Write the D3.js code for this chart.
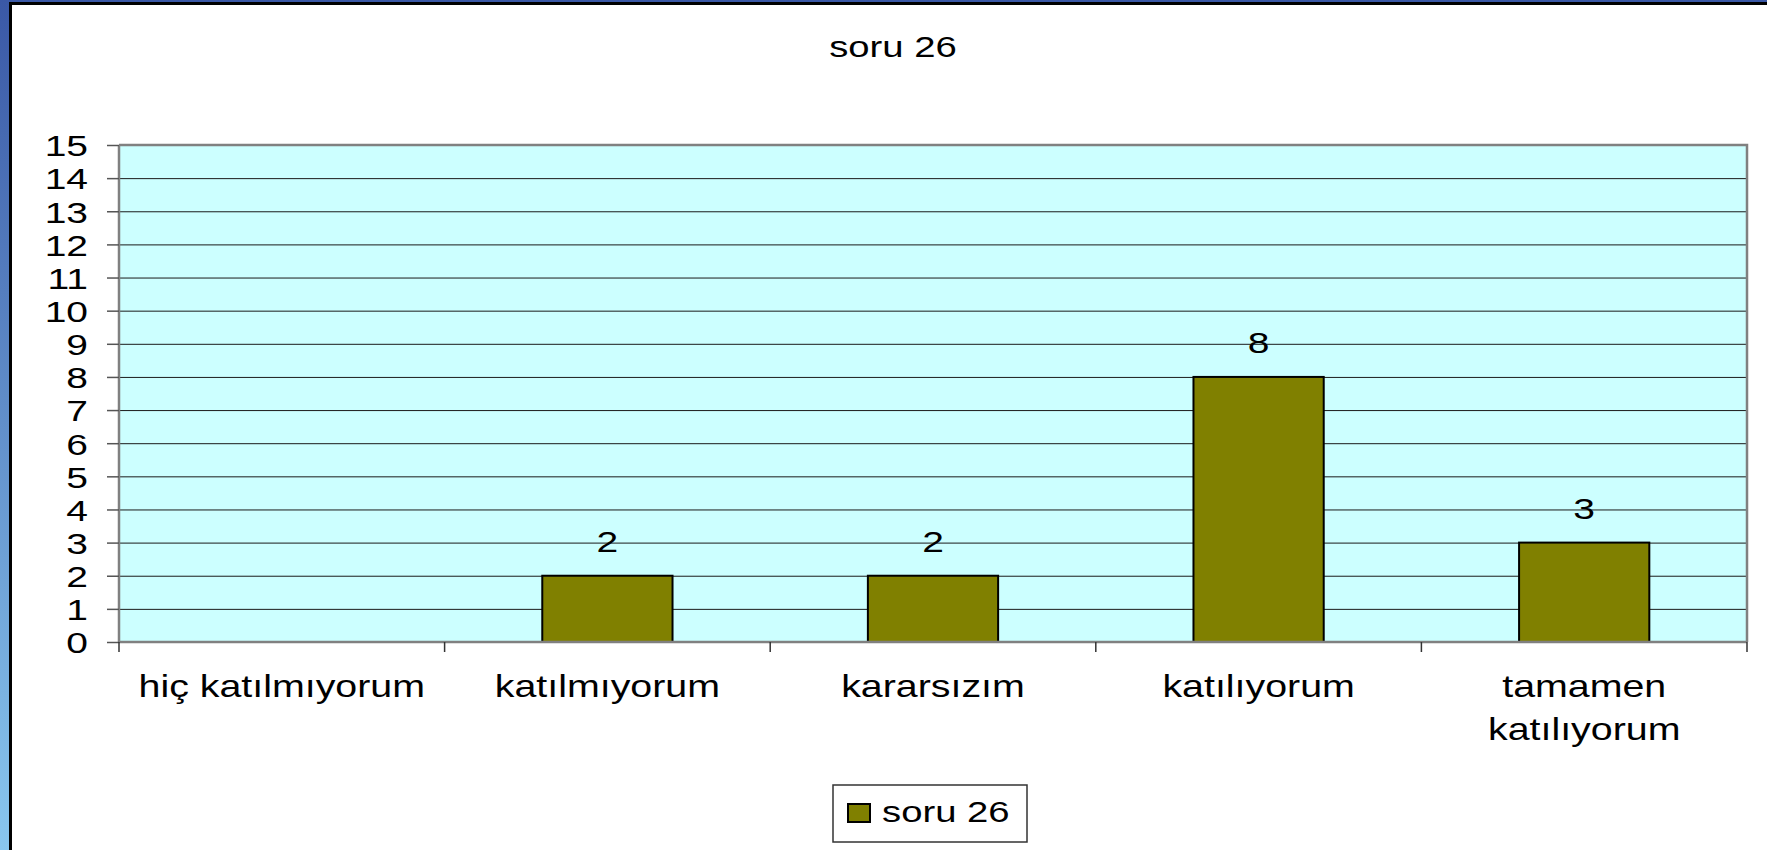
<!DOCTYPE html>
<html>
<head>
<meta charset="utf-8">
<script src="https://cdn.jsdelivr.net/npm/d3@7"></script>
<style>
  body { margin: 0; overflow: hidden; }
  text { font-family: "Liberation Sans", Arial, sans-serif; fill: #000; }
</style>
</head>
<body>
<svg></svg>
<script>
const width = 1767;
const height = 850;

// chart data
const title = "soru 26";
const seriesName = "soru 26";
const categories = ["hiç katılmıyorum", "katılmıyorum", "kararsızım", "katılıyorum", "tamamen katılıyorum"];
const values = [null, 2, 2, 8, 3];
const yTicks = d3.range(0, 16);

const stretch = 1.3; // the original text is drawn wider than normal

const plot = { left: 119, top: 145, right: 1747, bottom: 642 };

const svg = d3.select("svg")
  .attr("width", width)
  .attr("height", height);

// slide background peeking out at left and top
const grad = svg.append("defs").append("linearGradient")
  .attr("id", "slide")
  .attr("x1", 0).attr("y1", 0).attr("x2", 0).attr("y2", 1);
grad.append("stop").attr("offset", "0%").attr("stop-color", "#3a58a6");
grad.append("stop").attr("offset", "100%").attr("stop-color", "#89c7ef");

svg.append("rect").attr("width", width).attr("height", height).attr("fill", "url(#slide)");
svg.append("rect").attr("x", 9).attr("y", 2).attr("width", width).attr("height", height).attr("fill", "#000");
svg.append("rect").attr("x", 12).attr("y", 5).attr("width", width).attr("height", height).attr("fill", "#fff");

const x = d3.scaleBand()
  .domain(categories)
  .range([plot.left, plot.right])
  .paddingInner(0.6)
  .paddingOuter(0.3);

const y = d3.scaleLinear()
  .domain([0, 15])
  .range([plot.bottom, plot.top]);

// plot area
svg.append("rect")
  .attr("x", plot.left)
  .attr("y", plot.top)
  .attr("width", plot.right - plot.left)
  .attr("height", plot.bottom - plot.top)
  .attr("fill", "#ccffff");

// gridlines
svg.append("g")
  .attr("transform", `translate(${plot.left},0)`)
  .call(d3.axisLeft(y).tickValues(yTicks.slice(1, -1)).tickSize(-(plot.right - plot.left)).tickFormat(""))
  .call(g => g.select(".domain").remove())
  .call(g => g.selectAll("line").attr("stroke", "#1a1a1a").attr("stroke-width", 1));

// frame top and right
svg.append("path")
  .attr("d", `M${plot.left},${plot.top}H${plot.right}V${plot.bottom}`)
  .attr("fill", "none")
  .attr("stroke", "#808080")
  .attr("stroke-width", 2.5);

// bars
svg.selectAll("rect.bar")
  .data(values.map((v, i) => ({ cat: categories[i], v })).filter(d => d.v != null))
  .enter()
  .append("rect")
  .attr("class", "bar")
  .attr("x", d => x(d.cat))
  .attr("y", d => y(d.v))
  .attr("width", x.bandwidth())
  .attr("height", d => y(0) - y(d.v))
  .attr("fill", "#808000")
  .attr("stroke", "#000")
  .attr("stroke-width", 2);

// value labels
svg.selectAll("text.value")
  .data(values.map((v, i) => ({ cat: categories[i], v })).filter(d => d.v != null))
  .enter()
  .append("text")
  .attr("class", "value")
  .attr("text-anchor", "middle")
  .attr("font-size", 30)
  .attr("transform", d => `translate(${x(d.cat) + x.bandwidth() / 2},${y(d.v) - 24}) scale(${stretch},1)`)
  .text(d => d.v);

// y axis
svg.append("g")
  .attr("transform", `translate(${plot.left},0)`)
  .call(d3.axisLeft(y).tickValues(yTicks).tickSize(12).tickPadding(0))
  .call(g => g.select(".domain").attr("stroke", "#808080").attr("stroke-width", 2.5).attr("d", `M0,${plot.top}V${plot.bottom}`))
  .call(g => g.selectAll(".tick line").attr("stroke", "#555").attr("stroke-width", 1.5))
  .call(g => g.selectAll(".tick text")
    .attr("font-size", 30)
    .attr("font-family", null)
    .attr("x", -31 / stretch)
    .attr("dy", "0.36em")
    .attr("transform", `scale(${stretch},1)`));

// x axis line and boundary ticks
const xAxis = svg.append("g");
xAxis.append("line")
  .attr("x1", plot.left).attr("x2", plot.right)
  .attr("y1", plot.bottom).attr("y2", plot.bottom)
  .attr("stroke", "#808080").attr("stroke-width", 2.5);
xAxis.selectAll("line.tick")
  .data(d3.range(categories.length + 1))
  .enter()
  .append("line")
  .attr("class", "tick")
  .attr("x1", i => plot.left + i * x.step())
  .attr("x2", i => plot.left + i * x.step())
  .attr("y1", plot.bottom)
  .attr("y2", plot.bottom + 10)
  .attr("stroke", "#333")
  .attr("stroke-width", 1.5);

// category labels, wrapped when wider than a category slot
const catLabels = xAxis.selectAll("text.cat")
  .data(categories)
  .enter()
  .append("text")
  .attr("class", "cat")
  .attr("text-anchor", "middle")
  .attr("font-size", 32)
  .attr("transform", d => `translate(${x(d) + x.bandwidth() / 2},697) scale(1.23,1)`);

catLabels.each(function (d) {
  const t = d3.select(this);
  t.text(d);
  if (this.getComputedTextLength() * 1.23 > x.step() * 0.95) {
    const words = d.split(" ");
    t.text(null);
    words.forEach((w, i) => {
      t.append("tspan").attr("x", 0).attr("dy", i === 0 ? 0 : 43).text(w);
    });
  }
});

// title
svg.append("text")
  .attr("text-anchor", "middle")
  .attr("font-size", 29)
  .attr("transform", `translate(893,57) scale(1.32,1)`)
  .text(title);

// legend
const legend = svg.append("g");
legend.append("rect")
  .attr("x", 833).attr("y", 785)
  .attr("width", 194).attr("height", 57)
  .attr("fill", "#fff")
  .attr("stroke", "#333")
  .attr("stroke-width", 1.5);
legend.append("rect")
  .attr("x", 848).attr("y", 804)
  .attr("width", 22).attr("height", 18)
  .attr("fill", "#808000")
  .attr("stroke", "#000")
  .attr("stroke-width", 2);
legend.append("text")
  .attr("font-size", 29)
  .attr("transform", `translate(882,822) scale(1.32,1)`)
  .text(seriesName);
</script>
</body>
</html>
